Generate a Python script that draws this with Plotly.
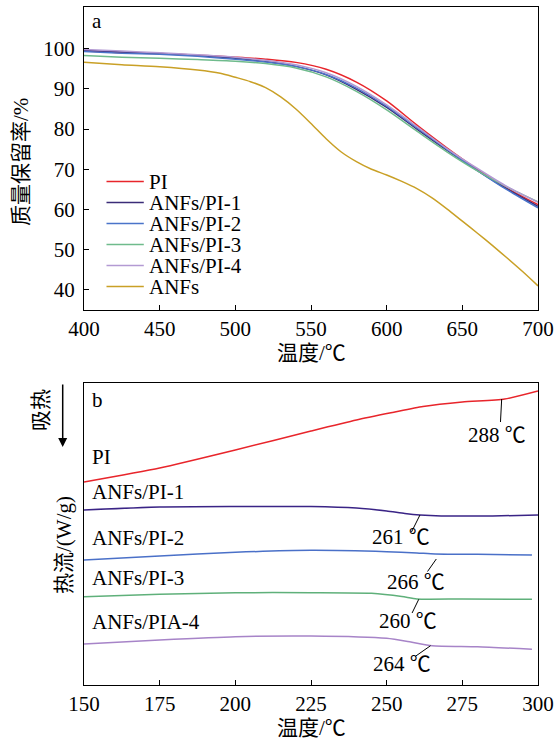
import plotly.graph_objects as go

# ---------------- Panel a: TGA ----------------
tga_temp = [400, 425, 450, 475, 500, 520, 540, 560, 580, 600, 620, 640, 660, 680, 700]
tga_PI    = [99.4, 99.0, 98.8, 98.4, 97.9, 97.4, 96.6, 94.9, 91.7, 87.0, 81.0, 75.3, 70.0, 65.2, 61.2]
tga_PI1   = [99.6, 99.2, 98.8, 98.3, 97.6, 96.8, 95.6, 93.5, 89.9, 85.4, 80.0, 74.7, 69.7, 65.0, 60.8]
tga_PI2   = [99.3, 98.9, 98.6, 98.1, 97.4, 96.7, 95.6, 93.6, 90.2, 85.7, 80.3, 74.9, 69.7, 64.8, 60.4]
tga_PI3   = [98.3, 97.9, 97.6, 97.3, 96.9, 96.3, 95.2, 93.0, 89.4, 84.8, 79.5, 74.3, 69.6, 65.5, 61.9]
tga_PI4   = [99.8, 99.4, 99.0, 98.5, 97.9, 97.1, 96.0, 94.0, 90.6, 86.0, 80.6, 75.1, 70.2, 65.6, 61.8]
tga_ANFs_temp = [400, 425, 450, 475, 490, 500, 510, 520, 530, 540, 550, 560, 570, 580, 590,
                 600, 610, 620, 630, 640, 650, 660, 670, 680, 690, 700]
tga_ANFs  = [96.6, 96.0, 95.5, 94.7, 93.9, 92.9, 91.8, 90.3, 88.0, 85.0, 81.4, 77.6, 74.3, 71.9, 70.0,
             68.6, 67.0, 65.2, 62.9, 60.1, 57.1, 54.1, 51.0, 47.8, 44.5, 41.0]
tga_yticks = [40, 50, 60, 70, 80, 90, 100]
tga_xticks = [400, 450, 500, 550, 600, 650, 700]

# ---------------- Panel b: DSC (arbitrary offsets) ----------------
dsc_PI_T  = [150, 175, 200, 225, 240, 252, 262, 275, 289, 300]
dsc_PI    = [20.3, 21.7, 23.5, 25.4, 26.5, 27.25, 27.85, 28.3, 28.6, 29.4]
dsc_PI1_T = [150, 175, 200, 225, 240, 250, 256, 261, 268, 275, 285, 300]
dsc_PI1   = [17.5, 17.8, 17.85, 17.85, 17.7, 17.4, 17.15, 17.0, 16.9, 16.9, 16.9, 17.0]
dsc_PI2_T = [150, 175, 200, 225, 250, 260, 266, 280, 298]
dsc_PI2   = [12.5, 12.9, 13.27, 13.47, 13.33, 13.2, 13.1, 13.07, 13.0]
dsc_PI3_T = [150, 175, 200, 225, 245, 255, 260, 275, 298]
dsc_PI3   = [8.83, 9.07, 9.23, 9.23, 9.17, 8.85, 8.6, 8.6, 8.57]
dsc_PI4_T = [150, 175, 200, 225, 250, 258, 265, 280, 298]
dsc_PI4   = [4.1, 4.5, 4.83, 4.9, 4.67, 4.3, 3.93, 3.83, 3.57]
dsc_xticks = [150, 175, 200, 225, 250, 275, 300]

names = ["PI", "ANFs/PI-1", "ANFs/PI-2", "ANFs/PI-3", "ANFs/PI-4", "ANFs"]
colors = ["#e8252b", "#3b2c78", "#4a74c9", "#6fbb8c", "#b39ad3", "#c9a026"]
dsc_names = ["PI", "ANFs/PI-1", "ANFs/PI-2", "ANFs/PI-3", "ANFs/PIA-4"]
dsc_colors = ["#e8252b", "#3a2486", "#4a70c8", "#5fb07a", "#a784c8"]
dsc_label_y = [22.8, 19.3, 14.7, 10.7, 6.3]

tg_text = ["288 ℃", "261 ℃", "266 ℃", "260 ℃", "264 ℃"]
tg_text_x = [286.5, 254.8, 259.7, 257.1, 255.1]
tg_text_y = [25.0, 14.8, 10.35, 6.45, 2.1]
tg_line_x = [[288, 287.6], [261, 258.2], [266.4, 263.5], [260.6, 258.4], [264.5, 259.4]]
tg_line_y = [[28.6, 26.3], [17.0, 15.3], [12.6, 11.35], [8.57, 7.2], [3.93, 2.85]]

FONT = "Liberation Serif, Times New Roman, Noto Sans CJK SC, serif"
FS = 21
W, H = 556, 742
X0, X1 = 84 / W, 538 / W
TOP_DOM = [1 - 310 / H, 1 - 7.3 / H]
BOT_DOM = [1 - 685 / H, 1 - 383 / H]

def px(x):
    return x / W

def py(y):
    return 1 - y / H

fig = go.Figure()
tga_series = [(tga_temp, tga_PI), (tga_temp, tga_PI1), (tga_temp, tga_PI2),
              (tga_temp, tga_PI3), (tga_temp, tga_PI4), (tga_ANFs_temp, tga_ANFs)]
for nm, col, (xs, ys) in zip(names, colors, tga_series):
    fig.add_trace(go.Scatter(x=xs, y=ys, mode="lines", name=nm, showlegend=False,
                             line=dict(color=col, width=1.5, shape="spline", smoothing=0.8),
                             xaxis="x", yaxis="y"))

dsc_series = [(dsc_PI_T, dsc_PI), (dsc_PI1_T, dsc_PI1), (dsc_PI2_T, dsc_PI2),
              (dsc_PI3_T, dsc_PI3), (dsc_PI4_T, dsc_PI4)]
for nm, col, (xs, ys) in zip(dsc_names, dsc_colors, dsc_series):
    fig.add_trace(go.Scatter(x=xs, y=ys, mode="lines", name=nm, showlegend=False,
                             line=dict(color=col, width=1.5, shape="spline", smoothing=0.6),
                             xaxis="x2", yaxis="y2"))

for lx, ly in zip(tg_line_x, tg_line_y):
    fig.add_trace(go.Scatter(x=lx, y=ly, mode="lines", showlegend=False,
                             line=dict(color="black", width=1),
                             xaxis="x2", yaxis="y2", hoverinfo="skip"))

axis_common = dict(showline=True, linecolor="black", linewidth=1, mirror=True,
                   showgrid=False, zeroline=False, ticklen=5, automargin=False,
                   tickcolor="black", tickfont=dict(family=FONT, size=FS, color="black"))

def txt(text, x, y, angle=0, xanchor="center"):
    return dict(text=text, x=x, y=y, xref="paper", yref="paper", xanchor=xanchor,
                yanchor="middle", showarrow=False, textangle=angle,
                font=dict(family=FONT, size=FS, color="black"))

annotations = [
    txt("a", px(97), py(21)),
    txt("b", px(97.5), py(400)),
    txt("温度/℃", (X0 + X1) / 2, py(353)),
    txt("温度/℃", (X0 + X1) / 2, py(728)),
    txt("质量保留率/%", px(21), py(162), angle=-90),
    txt("热流/(W/g)", px(64), py(545), angle=-90),
    txt("吸热", px(41), py(410), angle=-90),
]
annotations.append(dict(text="", x=px(62.7), y=py(447), xref="paper", yref="paper",
                        ax=0, ay=-64, axref="pixel", ayref="pixel",
                        showarrow=True, arrowhead=2, arrowsize=1.2, arrowwidth=1.5,
                        arrowcolor="black"))

# legend (panel a), built from names/colors
shapes = []
leg_row0, leg_step = 181.5, 21.0
for i, (nm, col) in enumerate(zip(names, colors)):
    yy = leg_row0 + i * leg_step
    shapes.append(dict(type="line", xref="paper", yref="paper",
                       x0=px(106.5), x1=px(143.8), y0=py(yy), y1=py(yy),
                       line=dict(color=col, width=1.5)))
    a = txt(nm, px(148), py(yy), xanchor="left")
    a.update(height=21, borderpad=0, valign="middle")
    annotations.append(a)

for nm, ly in zip(dsc_names, dsc_label_y):
    annotations.append(dict(text=nm, x=152, y=ly, xref="x2", yref="y2", xanchor="left",
                            yanchor="middle", showarrow=False,
                            font=dict(family=FONT, size=FS, color="black")))
for t, tx, ty in zip(tg_text, tg_text_x, tg_text_y):
    annotations.append(dict(text=t, x=tx, y=ty, xref="x2", yref="y2", xanchor="center",
                            yanchor="middle", showarrow=False,
                            font=dict(family=FONT, size=FS, color="black")))

fig.update_layout(
    width=W, height=H,
    margin=dict(l=0, r=0, t=0, b=0),
    paper_bgcolor="white", plot_bgcolor="white",
    font=dict(family=FONT, size=FS, color="black"),
    xaxis=dict(domain=[X0, X1], anchor="y", range=[400, 700], tickvals=tga_xticks,
               ticks="inside", ticklabelstandoff=0, **axis_common),
    yaxis=dict(domain=TOP_DOM, anchor="x", range=[35, 110.3], tickvals=tga_yticks,
               ticks="inside", ticklabelstandoff=4, **axis_common),
    xaxis2=dict(domain=[X0, X1], anchor="y2", range=[150, 300], tickvals=dsc_xticks,
                ticks="inside", ticklabelstandoff=0, **axis_common),
    yaxis2=dict(domain=BOT_DOM, anchor="x2", range=[0, 30.2], showticklabels=False,
                ticks="", **axis_common),
    annotations=annotations,
    shapes=shapes,
    showlegend=False,
)

fig.write_html("out.html")
